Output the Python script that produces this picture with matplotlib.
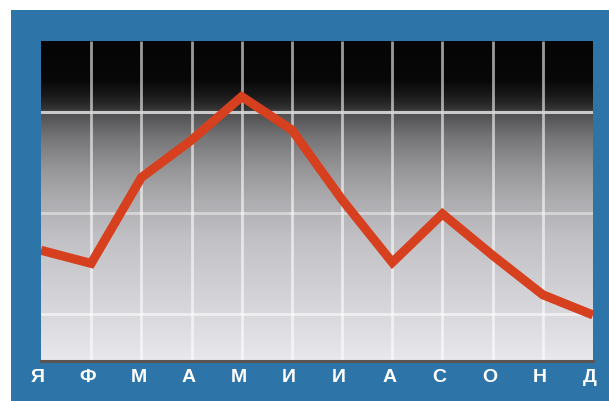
import numpy as np
import matplotlib
matplotlib.use("Agg")
import matplotlib.pyplot as plt
from matplotlib.patches import Rectangle
from matplotlib.transforms import ScaledTranslation

# months (Russian initials) and values
months = ['Я', 'Ф', 'М', 'А', 'М', 'И', 'И', 'А', 'С', 'О', 'Н', 'Д']
values = [16.3, 15.0, 23.5, 27.2, 31.5, 28.2, 21.3, 15.1, 19.9, 15.8, 11.9, 9.9]
grid_y = [10, 20, 30]

fig = plt.figure(figsize=(6.09, 4.01), dpi=100)
fig.patch.set_facecolor('white')

# blue frame
fig.patches.append(Rectangle((11 / 609, 0), 1 - 11 / 609, 1 - 10 / 401,
                             transform=fig.transFigure, facecolor='#2d74a9',
                             edgecolor='none', zorder=-10))

ax = fig.add_axes([41 / 609, 40 / 401, 552 / 609, 320 / 401])
ax.set_zorder(1)
ax.set_xlim(0, 11)
ax.set_ylim(5.35, 37.0)

# dark-to-light background gradient (fraction from top -> grey level)
pos = [0.0, 0.12, 0.17, 0.21, 0.23, 0.30, 0.40, 0.50, 0.62, 0.75, 0.88, 1.0]
lev = [0.02, 0.03, 0.10, 0.20, 0.32, 0.46, 0.59, 0.68, 0.76, 0.81, 0.86, 0.91]
rows = np.interp(np.linspace(0, 1, 300), pos, lev)
img = np.repeat(rows[:, None], 2, axis=1)
rgb = np.dstack([img, img, np.clip(img * 1.02, 0, 1)])
ax.imshow(rgb, extent=[0, 11, 5.35, 37.0], aspect='auto', zorder=0,
          interpolation='bilinear')

# grid
ax.vlines(range(1, 11), 5.35, 37.0, colors='white', alpha=0.6,
          linewidth=2.0, zorder=1)
ax.axhline(grid_y[2], color='#d8d8d8', linewidth=2.2, alpha=0.9, zorder=1)
ax.axhline(grid_y[1], color='white', linewidth=2.0, alpha=0.45, zorder=1)
ax.axhline(grid_y[0], color='white', linewidth=2.0, alpha=0.6, zorder=1)

# red line
ax.plot(range(len(values)), values, color='#d6401e', linewidth=6.5,
        solid_joinstyle='miter', solid_capstyle='butt', zorder=3)

for s in ['top', 'left', 'right']:
    ax.spines[s].set_visible(False)
ax.spines['bottom'].set_color('#5a5550')
ax.spines['bottom'].set_linewidth(2.2)

ax.set_yticks([])
ax.set_xticks(range(len(months)))
ax.set_xticklabels(months, color='white', fontsize=14, fontweight='bold',
                   family='Liberation Sans')
ax.tick_params(axis='x', length=0, pad=6)
shift = ScaledTranslation(-3 / 100, 0, fig.dpi_scale_trans)
for lbl in ax.get_xticklabels():
    lbl.set_transform(lbl.get_transform() + shift)

fig.savefig('out.png', dpi=100)
